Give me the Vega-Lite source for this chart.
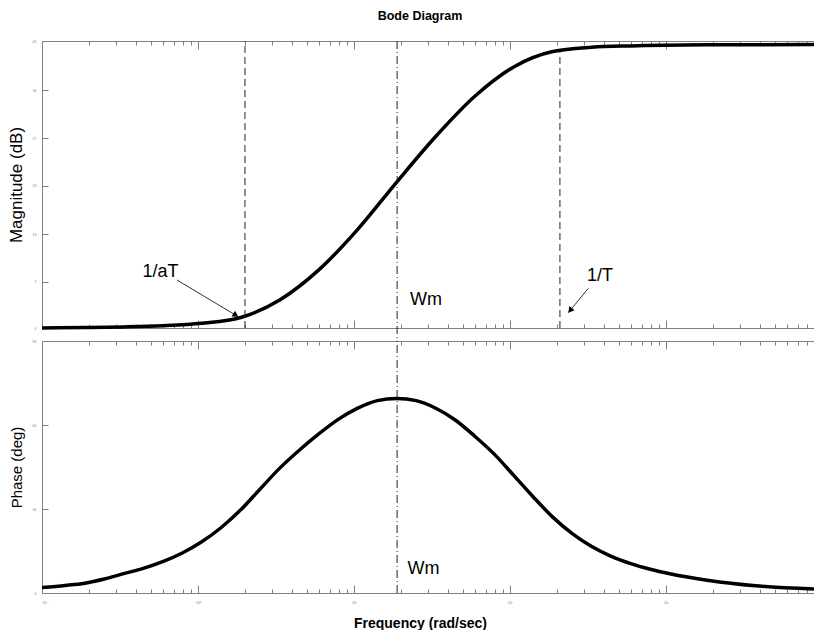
{
  "$schema": "https://vega.github.io/schema/vega-lite/v6.json",
  "padding": {"left": 7, "top": 10, "right": 0, "bottom": 0},
  "background": "white",
  "title": {"text": "Bode Diagram", "font": "Liberation Sans", "fontSize": 12.5, "fontWeight": "bold", "color": "black", "offset": 15, "anchor": "middle", "dx": 6},
  "config": {
    "view": {"stroke": null},
    "axis": {
      "domainColor": "#808080", "tickColor": "#808080", "grid": false,
      "labelFont": "Liberation Sans", "labelFontSize": 3.5, "labelColor": "#777",
      "titleFont": "Liberation Sans", "titleFontWeight": "normal", "titleColor": "black"
    }
  },
  "spacing": 13,
  "bounds": "flush",
  "datasets": {
    "mag": [
      {"f": 0.1, "db": 0}, {"f": 0.188, "db": 0.06}, {"f": 0.334, "db": 0.15}, {"f": 0.594, "db": 0.32},
      {"f": 1.057, "db": 0.68}, {"f": 1.88, "db": 1.5}, {"f": 3.34, "db": 4.0}, {"f": 5.95, "db": 8.3},
      {"f": 10.57, "db": 14.1}, {"f": 18.8, "db": 20.85}, {"f": 33.4, "db": 27.35}, {"f": 59.5, "db": 33.1},
      {"f": 105.7, "db": 37.3}, {"f": 188, "db": 39.5}, {"f": 334, "db": 40.1}, {"f": 595, "db": 40.3},
      {"f": 1880, "db": 40.45}, {"f": 8890, "db": 40.5}
    ],
    "phase": [
      {"f": 0.1, "deg": 2.0}, {"f": 0.141, "deg": 2.7}, {"f": 0.188, "deg": 3.5}, {"f": 0.251, "deg": 5.0},
      {"f": 0.334, "deg": 6.9}, {"f": 0.446, "deg": 8.8}, {"f": 0.594, "deg": 11.2}, {"f": 0.793, "deg": 14.3},
      {"f": 1.057, "deg": 18.3}, {"f": 1.41, "deg": 23.4}, {"f": 1.88, "deg": 29.7}, {"f": 2.507, "deg": 37.2},
      {"f": 3.343, "deg": 44.6}, {"f": 4.458, "deg": 51.0}, {"f": 5.945, "deg": 56.8}, {"f": 7.928, "deg": 62.0},
      {"f": 10.57, "deg": 66.0}, {"f": 14.1, "deg": 68.7}, {"f": 18.8, "deg": 69.5}, {"f": 25.07, "deg": 68.7},
      {"f": 33.43, "deg": 66.0}, {"f": 44.58, "deg": 61.8}, {"f": 59.45, "deg": 56.0}, {"f": 79.28, "deg": 49.6},
      {"f": 105.7, "deg": 42.0}, {"f": 141.0, "deg": 34.3}, {"f": 188, "deg": 27.1}, {"f": 250.7, "deg": 21.2},
      {"f": 334.3, "deg": 16.6}, {"f": 445.8, "deg": 13.1}, {"f": 594.5, "deg": 10.5}, {"f": 793, "deg": 8.5},
      {"f": 1057, "deg": 6.9}, {"f": 1880, "deg": 4.5}, {"f": 3751, "deg": 2.6}, {"f": 8890, "deg": 1.43}
    ],
    "topDash": [{"f": 2.0, "y": 0, "y2": 41}, {"f": 209, "y": 0, "y2": 39.6}],
    "topDashDot": [{"f": 18.9, "y": 41, "y2": -1.9}],
    "botDashDot": [{"f": 18.9, "y": 0, "y2": 90}],
    "topText": [{"f": 0.575, "v": 7.93, "t": "1/aT"}, {"f": 28.9, "v": 4.0, "t": "Wm"}, {"f": 377, "v": 7.36, "t": "1/T"}],
    "botText": [{"f": 27.9, "v": 8.57, "t": "Wm"}],
    "arrowA": [{"f": 0.733, "v": 6.86, "f2": 1.81, "v2": 1.61}],
    "arrowB": [{"f": 318, "v": 5.67, "f2": 236.6, "v2": 2.19}],
    "headA": [{"f": 1.747, "v": 1.84}],
    "headB": [{"f": 243, "v": 2.51}]
  },
  "vconcat": [
    {
      "width": 772, "height": 287,
      "resolve": {"axis": {"x": "independent", "y": "independent"}},
      "layer": [
        {
          "data": {"name": "mag"},
          "mark": {"type": "line", "color": "black", "strokeWidth": 3.5, "interpolate": "monotone"},
          "encoding": {
            "x": {"field": "f", "type": "quantitative", "scale": {"type": "log", "domain": [0.1, 8890], "nice": false},
              "axis": {"orient": "bottom", "title": null, "labels": false,
                "values": [0.1,0.2,0.3,0.4,0.5,0.6,0.7,0.8,0.9,1,2,3,4,5,6,7,8,9,10,20,30,40,50,60,70,80,90,100,200,300,400,500,600,700,800,900,1000,2000,3000,4000,5000,6000,7000,8000],
                "tickSize": {"condition": {"test": "abs(log(datum.value)/LN10 - round(log(datum.value)/LN10)) < 0.01", "value": -8}, "value": -4}}},
            "y": {"field": "db", "type": "quantitative", "scale": {"domain": [0, 41], "nice": false, "zero": false},
              "axis": {"orient": "left", "title": "Magnitude (dB)", "titleFontSize": 17, "titlePadding": 7,
                "values": [0, 6.6, 13.4, 20.3, 27.1, 34, 41], "format": ".0f", "tickSize": -6, "labelPadding": 12}}
          }
        },
        {
          "data": {"name": "topDash"},
          "mark": {"type": "rule", "strokeDash": [7, 4], "color": "#222", "strokeWidth": 1},
          "encoding": {
            "x": {"field": "f", "type": "quantitative",
              "axis": {"orient": "top", "title": null, "labels": false,
                "values": [0.1,0.2,0.3,0.4,0.5,0.6,0.7,0.8,0.9,1,2,3,4,5,6,7,8,9,10,20,30,40,50,60,70,80,90,100,200,300,400,500,600,700,800,900,1000,2000,3000,4000,5000,6000,7000,8000],
                "tickSize": {"condition": {"test": "abs(log(datum.value)/LN10 - round(log(datum.value)/LN10)) < 0.01", "value": -8}, "value": -4}}},
            "y": {"field": "y", "type": "quantitative", "axis": null},
            "y2": {"field": "y2"}
          }
        },
        {
          "data": {"name": "topDashDot"},
          "mark": {"type": "rule", "strokeDash": [8, 3, 1, 3], "color": "#222", "strokeWidth": 1},
          "encoding": {
            "x": {"field": "f", "type": "quantitative", "axis": null},
            "y": {"field": "y", "type": "quantitative", "axis": null},
            "y2": {"field": "y2"}
          }
        },
        {
          "data": {"name": "arrowA"},
          "mark": {"type": "rule", "color": "#333", "strokeWidth": 1},
          "encoding": {
            "x": {"field": "f", "type": "quantitative", "axis": null},
            "y": {"field": "v", "type": "quantitative", "axis": null},
            "x2": {"field": "f2"}, "y2": {"field": "v2"}
          }
        },
        {
          "data": {"name": "arrowB"},
          "mark": {"type": "rule", "color": "#333", "strokeWidth": 1},
          "encoding": {
            "x": {"field": "f", "type": "quantitative", "axis": null},
            "y": {"field": "v", "type": "quantitative", "axis": null},
            "x2": {"field": "f2"}, "y2": {"field": "v2"}
          }
        },
        {
          "data": {"name": "headA"},
          "mark": {"type": "point", "shape": "triangle-right", "filled": true, "color": "black", "opacity": 1, "size": 45, "angle": 32},
          "encoding": {
            "x": {"field": "f", "type": "quantitative", "axis": null},
            "y": {"field": "v", "type": "quantitative", "axis": null}
          }
        },
        {
          "data": {"name": "headB"},
          "mark": {"type": "point", "shape": "triangle-right", "filled": true, "color": "black", "opacity": 1, "size": 45, "angle": 129},
          "encoding": {
            "x": {"field": "f", "type": "quantitative", "axis": null},
            "y": {"field": "v", "type": "quantitative", "axis": null}
          }
        },
        {
          "data": {"name": "topText"},
          "mark": {"type": "text", "font": "Liberation Sans", "fontSize": 18, "color": "black", "align": "center", "baseline": "middle"},
          "encoding": {
            "x": {"field": "f", "type": "quantitative", "axis": null},
            "y": {"field": "v", "type": "quantitative", "axis": null},
            "text": {"field": "t"}
          }
        }
      ]
    },
    {
      "width": 772, "height": 252,
      "resolve": {"axis": {"x": "independent", "y": "independent"}},
      "layer": [
        {
          "data": {"name": "phase"},
          "mark": {"type": "line", "color": "black", "strokeWidth": 3.5, "interpolate": "monotone"},
          "encoding": {
            "x": {"field": "f", "type": "quantitative", "scale": {"type": "log", "domain": [0.1, 8890], "nice": false},
              "axis": {"orient": "bottom", "title": "Frequency  (rad/sec)", "titleFontSize": 14, "titleFontWeight": "bold", "titleY": 30, "titleX": 378, "titleBaseline": "middle",
                "values": [0.1,0.2,0.3,0.4,0.5,0.6,0.7,0.8,0.9,1,2,3,4,5,6,7,8,9,10,20,30,40,50,60,70,80,90,100,200,300,400,500,600,700,800,900,1000,2000,3000,4000,5000,6000,7000,8000],
                "labelExpr": "abs(log(datum.value)/LN10 - round(log(datum.value)/LN10)) < 0.01 ? ['10⁻¹','10⁰','10¹','10²','10³'][round(log(datum.value)/LN10)+1] : ''",
                "labelPadding": 15,
                "tickSize": {"condition": {"test": "abs(log(datum.value)/LN10 - round(log(datum.value)/LN10)) < 0.01", "value": -8}, "value": -4}}},
            "y": {"field": "deg", "type": "quantitative", "scale": {"domain": [0, 90], "nice": false, "zero": false},
              "axis": {"orient": "left", "title": "Phase (deg)", "titleFontSize": 15, "titlePadding": 8,
                "values": [0, 30, 60, 90], "format": ".0f", "tickSize": -6, "labelPadding": 12}}
          }
        },
        {
          "data": {"name": "botDashDot"},
          "mark": {"type": "rule", "strokeDash": [8, 3, 1, 3], "color": "#222", "strokeWidth": 1},
          "encoding": {
            "x": {"field": "f", "type": "quantitative",
              "axis": {"orient": "top", "title": null, "labels": false,
                "values": [0.1,0.2,0.3,0.4,0.5,0.6,0.7,0.8,0.9,1,2,3,4,5,6,7,8,9,10,20,30,40,50,60,70,80,90,100,200,300,400,500,600,700,800,900,1000,2000,3000,4000,5000,6000,7000,8000],
                "tickSize": {"condition": {"test": "abs(log(datum.value)/LN10 - round(log(datum.value)/LN10)) < 0.01", "value": -8}, "value": -4}}},
            "y": {"field": "y", "type": "quantitative", "axis": null},
            "y2": {"field": "y2"}
          }
        },
        {
          "data": {"name": "botText"},
          "mark": {"type": "text", "font": "Liberation Sans", "fontSize": 18, "color": "black", "align": "center", "baseline": "middle"},
          "encoding": {
            "x": {"field": "f", "type": "quantitative", "axis": null},
            "y": {"field": "v", "type": "quantitative", "axis": null},
            "text": {"field": "t"}
          }
        }
      ]
    }
  ]
}
